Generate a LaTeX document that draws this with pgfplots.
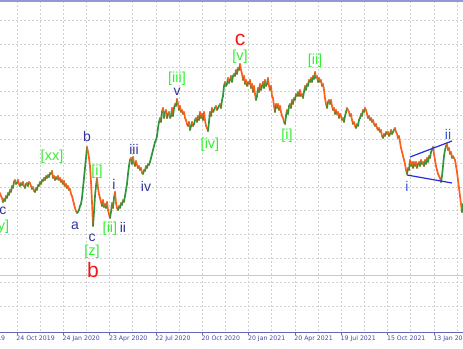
\documentclass[border=0pt]{standalone}
\usepackage{pgfplots}
\pgfplotsset{compat=1.18}
\usepackage{pgfplotstable}
\usepackage{fontspec}
\setmainfont{DejaVu Sans}
\newfontfamily\lab{Liberation Sans}
\definecolor{gridc}{RGB}{210,210,210}
\definecolor{axc}{RGB}{100,100,185}
\definecolor{topc}{RGB}{150,150,215}
\definecolor{lblc}{RGB}{70,70,160}
\definecolor{wgreen}{RGB}{50,240,50}
\definecolor{wblue}{RGB}{50,50,155}
\definecolor{wblue2}{RGB}{50,85,215}
\definecolor{wred}{RGB}{240,25,25}
\definecolor{cup}{RGB}{45,150,60}
\definecolor{cdn}{RGB}{255,95,30}
\definecolor{tri}{RGB}{35,45,220}
\definecolor{lvl}{RGB}{200,200,200}
% x = bar position (px), p = close level (px from top of chart window), m = 1 if next bar closes higher
\pgfplotstableread[row sep=\\]{
x p m\\
0 193 0\\ 1 196 0\\ 2 198 0\\ 3 202 1\\ 4 199 0\\ 5 201 1\\ 6 196 0\\ 7 198 1\\ 8 193 0\\ 9 195 1\\
10 190 0\\ 11 192 1\\ 12 186 0\\ 13 188 1\\ 14 182 1\\ 15 180 0\\ 16 184 1\\ 17 183 1\\ 18 180 0\\ 19 184 0\\
20 186 1\\ 21 183 0\\ 22 185 1\\ 23 182 0\\ 24 186 0\\ 25 188 1\\ 26 184 1\\ 27 183 0\\ 28 186 1\\ 29 182 0\\
30 183 0\\ 31 186 0\\ 32 189 1\\ 33 187 0\\ 34 191 0\\ 35 192 1\\ 36 188 0\\ 37 190 1\\ 38 185 0\\ 39 186 1\\
40 182 0\\ 41 184 1\\ 42 180 0\\ 43 181 1\\ 44 178 0\\ 45 180 1\\ 46 176 0\\ 47 178 1\\ 48 175 0\\ 49 177 1\\
50 173 0\\ 51 174 1\\ 52 171 0\\ 53 178 1\\ 54 176 0\\ 55 180 1\\ 56 177 0\\ 57 179 1\\ 58 176 0\\ 59 180 1\\
60 178 0\\ 61 182 1\\ 62 180 0\\ 63 184 1\\ 64 181 0\\ 65 186 1\\ 66 184 0\\ 67 188 1\\ 68 186 0\\ 69 190 1\\
70 189 0\\ 71 194 0\\ 72 196 0\\ 73 200 0\\ 74 204 0\\ 75 208 0\\ 76 211 0\\ 77 213 1\\ 78 212 1\\ 79 210 1\\
80 206 1\\ 81 204 1\\ 82 198 1\\ 83 188 1\\ 84 178 1\\ 85 168 1\\ 86 158 1\\ 87 147 0\\ 88 152 0\\ 89 158 0\\
90 166 0\\ 91 182 0\\ 92 202 0\\ 93 226 1\\ 94 212 1\\ 95 196 1\\ 96 186 1\\ 97 178 0\\ 98 188 0\\ 99 194 0\\
100 198 0\\ 101 202 0\\ 102 206 1\\ 103 200 0\\ 104 207 1\\ 105 204 0\\ 106 208 1\\ 107 202 0\\ 108 210 0\\ 109 214 0\\
110 218 1\\ 111 212 1\\ 112 203 0\\ 113 208 1\\ 114 198 1\\ 115 192 0\\ 116 203 0\\ 117 208 0\\ 118 210 1\\ 119 206 0\\
120 208 1\\ 121 203 0\\ 122 205 1\\ 123 200 0\\ 124 202 1\\ 125 196 1\\ 126 190 1\\ 127 184 1\\ 128 174 1\\ 129 166 1\\
130 160 1\\ 131 158 0\\ 132 164 1\\ 133 157 0\\ 134 163 0\\ 135 166 1\\ 136 161 0\\ 137 165 0\\ 138 168 1\\ 139 166 0\\
140 170 1\\ 141 168 0\\ 142 173 0\\ 143 174 1\\ 144 170 0\\ 145 171 1\\ 146 166 0\\ 147 168 1\\ 148 164 0\\ 149 165 1\\
150 162 1\\ 151 158 1\\ 152 154 1\\ 153 150 1\\ 154 146 1\\ 155 142 1\\ 156 140 1\\ 157 136 1\\ 158 128 1\\ 159 122 1\\
160 118 0\\ 161 122 1\\ 162 112 1\\ 163 108 0\\ 164 118 1\\ 165 112 1\\ 166 110 0\\ 167 118 1\\ 168 114 1\\ 169 112 0\\
170 118 1\\ 171 116 1\\ 172 108 0\\ 173 116 1\\ 174 108 1\\ 175 104 0\\ 176 106 1\\ 177 99 0\\ 178 104 0\\ 179 110 1\\
180 106 0\\ 181 112 1\\ 182 110 0\\ 183 114 1\\ 184 112 0\\ 185 118 0\\ 186 120 0\\ 187 124 0\\ 188 126 1\\ 189 122 0\\
190 130 1\\ 191 126 1\\ 192 122 0\\ 193 126 1\\ 194 124 1\\ 195 120 1\\ 196 118 0\\ 197 122 1\\ 198 116 0\\ 199 120 1\\
200 112 0\\ 201 118 1\\ 202 114 0\\ 203 120 1\\ 204 112 0\\ 205 120 0\\ 206 126 0\\ 207 128 0\\ 208 131 1\\ 209 122 1\\
210 112 0\\ 211 116 1\\ 212 108 0\\ 213 112 1\\ 214 110 1\\ 215 108 1\\ 216 106 0\\ 217 110 1\\ 218 108 1\\ 219 106 1\\
220 104 0\\ 221 108 1\\ 222 100 1\\ 223 96 1\\ 224 86 1\\ 225 82 0\\ 226 86 1\\ 227 84 1\\ 228 78 0\\ 229 83 1\\
230 80 1\\ 231 76 0\\ 232 82 1\\ 233 76 1\\ 234 74 0\\ 235 76 1\\ 236 70 0\\ 237 74 1\\ 238 68 0\\ 239 70 1\\
240 64 0\\ 241 70 0\\ 242 74 0\\ 243 80 1\\ 244 76 0\\ 245 84 1\\ 246 80 0\\ 247 86 1\\ 248 82 0\\ 249 84 1\\
250 80 0\\ 251 88 1\\ 252 84 0\\ 253 92 1\\ 254 86 0\\ 255 94 0\\ 256 100 1\\ 257 96 1\\ 258 88 0\\ 259 92 1\\
260 84 0\\ 261 90 1\\ 262 86 1\\ 263 82 0\\ 264 88 1\\ 265 80 0\\ 266 86 1\\ 267 84 1\\ 268 78 0\\ 269 86 0\\
270 90 1\\ 271 86 0\\ 272 96 0\\ 273 98 0\\ 274 106 0\\ 275 112 1\\ 276 104 0\\ 277 108 1\\ 278 104 0\\ 279 110 1\\
280 106 0\\ 281 112 0\\ 282 116 0\\ 283 118 0\\ 284 122 0\\ 285 124 1\\ 286 116 1\\ 287 110 0\\ 288 114 1\\ 289 106 1\\
290 104 0\\ 291 108 1\\ 292 100 0\\ 293 104 1\\ 294 98 0\\ 295 100 1\\ 296 94 0\\ 297 96 1\\ 298 92 0\\ 299 96 1\\
300 90 0\\ 301 96 1\\ 302 94 0\\ 303 98 1\\ 304 92 1\\ 305 86 0\\ 306 90 1\\ 307 84 0\\ 308 86 1\\ 309 80 0\\
310 82 1\\ 311 78 0\\ 312 82 1\\ 313 76 0\\ 314 79 1\\ 315 72 0\\ 316 78 1\\ 317 76 0\\ 318 82 1\\ 319 78 0\\
320 82 1\\ 321 80 0\\ 322 86 1\\ 323 84 0\\ 324 90 0\\ 325 98 0\\ 326 104 0\\ 327 108 1\\ 328 102 1\\ 329 100 0\\
330 104 1\\ 331 100 0\\ 332 106 0\\ 333 110 1\\ 334 108 0\\ 335 114 1\\ 336 110 0\\ 337 114 1\\ 338 112 0\\ 339 118 1\\
340 114 0\\ 341 116 0\\ 342 120 1\\ 343 118 0\\ 344 122 1\\ 345 116 1\\ 346 112 1\\ 347 108 0\\ 348 110 0\\ 349 112 0\\
350 116 1\\ 351 114 0\\ 352 120 0\\ 353 124 1\\ 354 122 0\\ 355 126 0\\ 356 128 1\\ 357 124 0\\ 358 126 1\\ 359 120 1\\
360 118 1\\ 361 114 0\\ 362 116 1\\ 363 110 0\\ 364 112 1\\ 365 108 0\\ 366 110 0\\ 367 114 0\\ 368 118 1\\ 369 116 0\\
370 120 1\\ 371 118 0\\ 372 122 1\\ 373 120 0\\ 374 124 0\\ 375 126 1\\ 376 124 0\\ 377 128 0\\ 378 130 1\\ 379 128 0\\
380 132 1\\ 381 130 0\\ 382 136 0\\ 383 138 1\\ 384 134 0\\ 385 136 1\\ 386 132 0\\ 387 134 1\\ 388 132 0\\ 389 136 1\\
390 134 1\\ 391 130 0\\ 392 134 1\\ 393 132 1\\ 394 130 1\\ 395 128 0\\ 396 132 0\\ 397 134 0\\ 398 138 1\\ 399 136 0\\
400 142 0\\ 401 148 0\\ 402 152 0\\ 403 156 0\\ 404 160 0\\ 405 164 0\\ 406 170 0\\ 407 174 1\\ 408 168 0\\ 409 170 1\\
410 160 0\\ 411 166 1\\ 412 162 0\\ 413 168 1\\ 414 162 0\\ 415 166 1\\ 416 162 0\\ 417 168 1\\ 418 164 1\\ 419 162 0\\
420 166 1\\ 421 160 0\\ 422 164 1\\ 423 162 0\\ 424 166 1\\ 425 160 0\\ 426 164 1\\ 427 158 0\\ 428 162 1\\ 429 156 0\\
430 158 1\\ 431 152 1\\ 432 150 1\\ 433 147 0\\ 434 154 0\\ 435 160 0\\ 436 166 0\\ 437 170 0\\ 438 174 0\\ 439 176 0\\
440 178 0\\ 441 182 1\\ 442 176 1\\ 443 166 1\\ 444 156 1\\ 445 150 1\\ 446 146 1\\ 447 144 0\\ 448 150 1\\ 449 148 0\\
450 154 1\\ 451 152 0\\ 452 158 1\\ 453 156 0\\ 454 158 0\\ 455 160 0\\ 456 166 0\\ 457 172 0\\ 458 180 0\\ 459 188 0\\
460 196 0\\ 461 204 0\\ 462 212 1\\ 463 204 0\\
}\price

\newcommand{\gl}{\lab\fontsize{14.5}{15}\selectfont}
\newcommand{\wl}{\lab\fontsize{14}{15}\selectfont}
\newcommand{\rl}{\lab\fontsize{21}{21}\selectfont}

\begin{document}
\begin{tikzpicture}
\begin{axis}[
  at={(0pt,16pt)}, anchor=south west,
  scale only axis, width=463pt, height=331pt,
  xmin=0, xmax=463, ymin=1, ymax=332, y dir=reverse,
  clip=false,
  axis line style={draw=none},
  xtick={17,63.33,109.67,156,202.33,248.67,295,341.33,387.67,434},
  xticklabels={24 Oct 2019,24 Jan 2020,23 Apr 2020,22 Jul 2020,20 Oct 2020,20 Jan 2021,20 Apr 2021,19 Jul 2021,15 Oct 2021,13 Jan 2022},
  minor xtick={40.17,86.5,132.83,179.17,225.5,271.83,318.17,364.5,410.83,457.17},
  ytick={20,43.85,67.7,91.55,115.4,139.25,163.1,186.95,210.8,234.65,258.5,282.35,306.2},
  yticklabels={},
  ytick style={draw=none},
  minor ytick={},
  extra y ticks={275}, extra y tick labels={},
  extra y tick style={grid=major, major grid style={solid, lvl, line width=0.8pt}, tick style={draw=none}},
  grid=both,
  major grid style={gridc, dash pattern=on 2pt off 2pt, line width=0.7pt},
  minor grid style={gridc, dash pattern=on 2pt off 2pt, line width=0.7pt},
  xtick pos=bottom, tick align=outside,
  major tick length=3pt, minor tick length=0pt,
  xtick style={axc, line width=0.8pt},
  xticklabel style={anchor=north west, inner sep=0pt, xshift=-0.8pt, yshift=-0.5pt,
    font=\fontsize{6.2}{7}\selectfont, text=lblc},
]
% price path (bars coloured up / down)
\addplot[mesh, shader=flat corner, point meta=explicit,
  colormap={updown}{color=(cdn) color=(cup)},
  point meta min=0, point meta max=1,
  line width=1.7pt, line cap=round, line join=round]
  table[x=x, y=p, meta=m] {\price};
% triangle trend lines
\addplot[tri, line width=1.2pt] coordinates {(410,157) (452,141)};
\addplot[tri, line width=1.2pt] coordinates {(407,175) (452,183)};
% window top and bottom lines
\draw[topc, line width=1.3pt] (axis cs:0,1) -- (axis cs:463,1);
\draw[axc, line width=0.9pt] (axis cs:0,332) -- (axis cs:463,332);
\node[anchor=north west, inner sep=0pt, font=\fontsize{6.2}{7}\selectfont, text=lblc]
  at ([yshift=-3.5pt, xshift=-0.8pt]axis cs:-29.33,332) {24 Jul 2019};
% wave labels
\node[text=wblue, font=\wl] at (axis cs:3,211) {c};
\node[text=wgreen, font=\gl] at (axis cs:1.5,227) {[y]};
\node[text=wgreen, font=\gl] at (axis cs:52,157) {[xx]};
\node[text=wblue, font=\wl] at (axis cs:75,226) {a};
\node[text=wblue, font=\wl] at (axis cs:87,136) {b};
\node[text=wgreen, font=\gl] at (axis cs:97,172) {[i]};
\node[text=wblue, font=\wl] at (axis cs:114,184) {i};
\node[text=wblue, font=\wl] at (axis cs:92,238) {c};
\node[text=wgreen, font=\gl] at (axis cs:110,229) {[ii]};
\node[text=wblue, font=\wl] at (axis cs:123,227) {ii};
\node[text=wgreen, font=\gl] at (axis cs:92,252) {[z]};
\node[text=wred, font=\rl] at (axis cs:93,270) {b};
\node[text=wblue, font=\wl] at (axis cs:134,149) {iii};
\node[text=wblue, font=\wl] at (axis cs:146,186) {iv};
\node[text=wgreen, font=\gl] at (axis cs:177,79) {[iii]};
\node[text=wblue, font=\wl] at (axis cs:177,92) {v};
\node[text=wgreen, font=\gl] at (axis cs:210,145) {[iv]};
\node[text=wred, font=\rl] at (axis cs:240,40) {c};
\node[text=wgreen, font=\gl] at (axis cs:240,57) {[v]};
\node[text=wgreen, font=\gl] at (axis cs:287,136) {[i]};
\node[text=wgreen, font=\gl] at (axis cs:315,61) {[ii]};
\node[text=wblue2, font=\wl] at (axis cs:407,186) {i};
\node[text=wblue2, font=\wl] at (axis cs:448,134) {ii};
\end{axis}
\pgfresetboundingbox
\useasboundingbox (0,0) rectangle (463pt,348pt);
\end{tikzpicture}
\end{document}
